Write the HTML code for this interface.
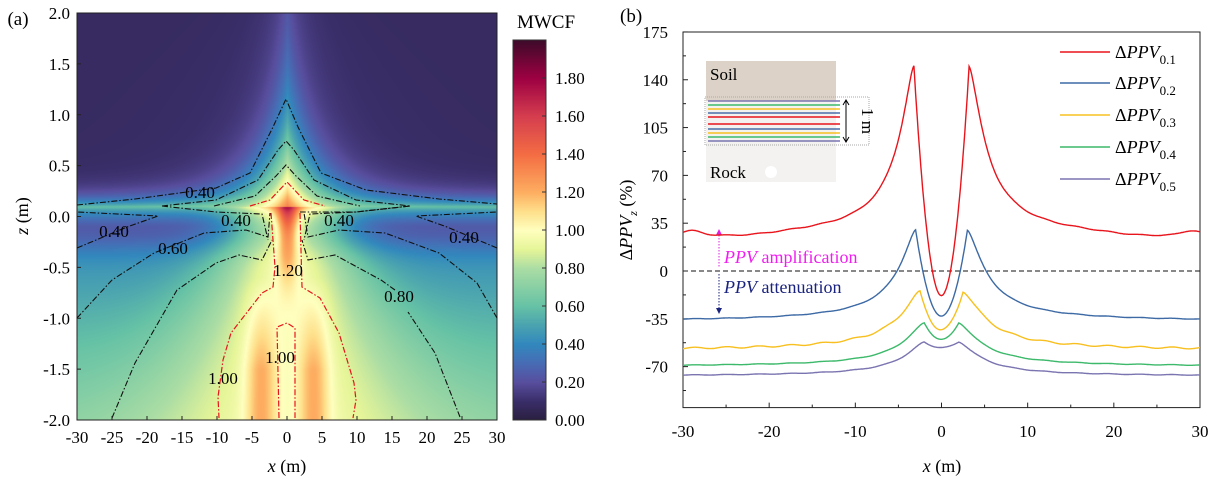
<!DOCTYPE html>
<html><head><meta charset="utf-8"><style>
body{margin:0;background:#fff;width:1216px;height:479px;overflow:hidden;position:relative;font-family:"Liberation Serif",serif}
canvas{position:absolute}
svg{position:absolute;left:0;top:0}
</style></head><body>
<canvas id="hm" width="420" height="407" style="left:77px;top:13px"></canvas>
<canvas id="cb" width="33" height="380" style="left:513px;top:40px"></canvas>
<svg id="s" width="1216" height="479" viewBox="0 0 1216 479" font-family="Liberation Serif, serif"></svg>
<script>
var stops=[[0,[42,31,63]],[0.1,[58,46,105]],[0.2,[88,78,158]],[0.3,[72,108,181]],[0.4,[50,136,189]],[0.5,[74,163,176]],[0.6,[102,194,165]],[0.8,[171,221,164]],[0.9,[230,245,152]],[1.0,[255,255,191]],[1.1,[254,224,139]],[1.2,[253,174,97]],[1.4,[244,109,67]],[1.6,[213,62,79]],[1.8,[158,1,66]],[2.0,[61,10,42]]];
function cmap(v){if(v<=0)return stops[0][1];if(v>=2)return stops[stops.length-1][1];for(var i=1;i<stops.length;i++){if(v<=stops[i][0]){var a=stops[i-1],b=stops[i],t=(v-a[0])/(b[0]-a[0]);return[a[1][0]+t*(b[1][0]-a[1][0]),a[1][1]+t*(b[1][1]-a[1][1]),a[1][2]+t*(b[1][2]-a[1][2])];}}}
function field(x,z){var ax=Math.abs(x);
 if(z>=0.1){var h=z-0.1;var L=0.1+0.62*Math.exp(-ax/5);var A=0.5+0.7*Math.exp(-ax/5);
  var g=0.07*Math.exp(-ax/Math.max(4,14-5*h));
  return 0.08+A*Math.exp(-h/L)+g;}
 var d=0.1-z;
 var e=Math.max(0,Math.min(1,(d-0.2)/1.9));
 var edge=0.33+0.37*Math.pow(e,0.7);
 var cen=0.97;var w=7+6*d;
 var v=edge+(cen-edge)*Math.exp(-Math.pow(ax/w,2));
 v+=0.3*Math.exp(-d/0.08);
 v-=0.12*Math.exp(-Math.pow((d-0.25)/0.2,2));
 v+=0.55*Math.exp(-Math.pow(ax/1.5,2))*Math.exp(-Math.pow(d/0.6,2));
 var sm=Math.max(0,Math.min(1,(d-0.7)/0.9));
 v+=0.25*Math.exp(-Math.pow((ax-3.8)/2.2,2))*sm;
 return Math.min(v,1.75);}
var c=document.getElementById('hm').getContext('2d');var im=c.createImageData(420,407);
for(var j=0;j<407;j++){var z=2-j/101.75;for(var i=0;i<420;i++){var x=-30+i/7;var col=cmap(field(x,z));var k=(j*420+i)*4;im.data[k]=col[0];im.data[k+1]=col[1];im.data[k+2]=col[2];im.data[k+3]=255;}}
c.putImageData(im,0,0);
var cb=document.getElementById('cb').getContext('2d');var im2=cb.createImageData(33,380);
for(var j=0;j<380;j++){var v=(380-j)/190;var col=cmap(v);for(var i=0;i<33;i++){var k=(j*33+i)*4;im2.data[k]=col[0];im2.data[k+1]=col[1];im2.data[k+2]=col[2];im2.data[k+3]=255;}}
cb.putImageData(im2,0,0);

var S='';
function T(x,y,t,o){o=o||{};S+='<text font-family="Liberation Serif, serif" x="'+x+'" y="'+y+'" font-size="'+(o.fs||18)+'" text-anchor="'+(o.a||'middle')+'"'+(o.fill?' fill="'+o.fill+'"':'')+(o.tr?' transform="'+o.tr+'"':'')+'>'+t+'</text>';}
function P(pts,st){S+='<polyline fill="none" points="'+pts.map(function(p){return p.join(',')}).join(' ')+'" '+st+'/>';}
S+='<rect x="77" y="13" width="420" height="407" fill="none" stroke="#222" stroke-width="1"/>';
var cs='stroke="#111" stroke-width="1.1" stroke-dasharray="6,2,1.5,2"';
var rs='stroke="#e8141c" stroke-width="1.2" stroke-dasharray="6,2,1.5,2"';
P([[77,205],[135,199],[216,188],[250,173],[273,127],[286,99],[298,127],[321,173],[366,190],[439,199],[497,204]],cs);
P([[162,206],[216,200],[258,180],[278,150],[286,141],[294,150],[314,180],[356,200],[410,206],[356,212],[300,212]],cs);
P([[162,206],[216,212],[262,214],[268,240]],cs);
P([[410,206],[356,212],[310,214],[304,240]],cs);
P([[214,206],[255,196],[276,176],[286,165],[296,176],[317,196],[360,206]],cs);
P([[77,248],[127,227],[158,216],[77,212]],cs);
P([[497,248],[447,227],[416,216],[497,212]],cs);
P([[77,318],[112,280],[154,253],[204,233],[246,230],[268,237],[270,213]],cs);
P([[497,318],[477,283],[439,253],[385,233],[339,230],[308,237],[304,213]],cs);
P([[112,418],[135,363],[177,290],[216,263],[239,255],[262,260],[272,240]],cs);
P([[460,417],[435,353],[408,312]],cs);P([[395,290],[381,280],[335,255],[308,260],[302,240]],cs);
P([[250,206],[270,200],[287,182],[304,200],[325,206]],rs);
P([[271,213],[275,267],[273,287],[262,293],[231,333],[223,360],[218,397],[219,418]],rs);
P([[300,213],[302,287],[320,298],[339,333],[354,383],[356,400],[353,418]],rs);
P([[279,418],[277,327],[287,323],[295,328],[295,418]],rs);
var lb=[[200,198,'0.40'],[114,237,'0.40'],[173,254,'0.60'],[236,226,'0.40'],[339,226,'0.40'],[464,243,'0.40'],[288,276,'1.20'],[399,302,'0.80'],[280,363,'1.00'],[223,384,'1.00']];
lb.forEach(function(l){T(l[0],l[1],l[2],{fs:17});});
for(var i=0;i<=8;i++){var z=2-i*0.5;var y=13+i*50.875;T(70,y+6,(z==0?'0.0':z.toFixed(1)),{a:'end',fs:17});S+='<line x1="77" x2="81" y1="'+y+'" y2="'+y+'" stroke="#222"/>';}
for(var i=0;i<=12;i++){var xv=-30+i*5;var x=77+i*35;T(x,443,''+xv,{fs:17});S+='<line x1="'+x+'" x2="'+x+'" y1="420" y2="416" stroke="#222"/>';}
T(18,25,'(a)',{fs:19});
T(287,472,'<tspan font-style="italic">x</tspan> (m)',{fs:18});
T(28,216,'<tspan font-style="italic">z</tspan> (m)',{fs:18,tr:'rotate(-90 28 216)'});
S+='<rect x="513" y="40" width="33" height="380" fill="none" stroke="#333"/>';
T(546,28,'MWCF',{fs:19});
for(var i=0;i<=9;i++){var v=i*0.2;var y=420-i*38;T(555,y+6,v.toFixed(2),{a:'start',fs:17});S+='<line x1="542" x2="546" y1="'+y+'" y2="'+y+'" stroke="#333"/>';}
var X0=683,X1=1200,Y0=271;function RX(x){return X0+(x+30)*(X1-X0)/60;}function RY(v){return Y0-v*1.366;}
var YB=RY(-100);
S+='<rect x="'+X0+'" y="32" width="'+(X1-X0)+'" height="'+(YB-32)+'" fill="none" stroke="#222"/>';
S+='<rect x="706" y="61" width="130" height="40" fill="#dcd2c7"/><rect x="706" y="101" width="130" height="81" fill="#f3f2f0"/>';
S+='<rect x="705" y="97" width="164" height="48" fill="none" stroke="#aaa" stroke-dasharray="1,1"/>';
var lc=['#7a74b0','#3cb96a','#f7c020','#4a6fa8','#e8141c','#e8141c','#4a6fa8','#f7c020','#3cb96a','#7a74b0'];var ly=[101,105,109,113,117,124,129,133,137,141];
for(var i=0;i<10;i++)S+='<line x1="708" x2="840" y1="'+ly[i]+'" y2="'+ly[i]+'" stroke="'+lc[i]+'" stroke-width="1.5"/>';
S+='<line x1="846" x2="846" y1="101" y2="141" stroke="#000"/><path d="M843,105 L846,100 L849,105 M843,137 L846,142 L849,137" fill="none" stroke="#000"/>';
T(862,121,'1 m',{fs:17,tr:'rotate(90 862 121)'});
T(710,80,'Soil',{a:'start',fs:17});T(710,178,'Rock',{a:'start',fs:17});
S+='<circle cx="771" cy="172" r="6" fill="#fff"/>';
S+='<line x1="'+X0+'" x2="'+X1+'" y1="'+Y0+'" y2="'+Y0+'" stroke="#111" stroke-dasharray="5,3"/>';
for(var i=0;i<=8;i++){var v=175-i*35;var y=RY(v);if(v>=-70){T(668,y+6,''+v,{a:'end',fs:17});}if(v>-100)S+='<line x1="'+X0+'" x2="'+(X0+5)+'" y1="'+y+'" y2="'+y+'" stroke="#222"/>';var y2=RY(v-17.5);if(v-17.5>-100)S+='<line x1="'+X0+'" x2="'+(X0+3)+'" y1="'+y2+'" y2="'+y2+'" stroke="#222"/>';}
for(var i=0;i<=12;i++){var xv=-30+i*5;var x=RX(xv);if(i%2==0){T(x,437,''+xv,{fs:17});S+='<line x1="'+x+'" x2="'+x+'" y1="'+YB+'" y2="'+(YB-5)+'" stroke="#222"/>';}else S+='<line x1="'+x+'" x2="'+x+'" y1="'+YB+'" y2="'+(YB-3)+'" stroke="#222"/>';}
T(620,22,'(b)',{a:'start',fs:19});
T(942,472,'<tspan font-style="italic">x</tspan> (m)',{fs:18});
T(632,220,'Δ<tspan font-style="italic">PPV</tspan><tspan font-size="12" dy="5" font-style="italic">z</tspan><tspan dy="-5"> (%)</tspan>',{fs:18,tr:'rotate(-90 632 220)'});
S+='<line x1="719" x2="719" y1="232" y2="268" stroke="#e020e0" stroke-dasharray="1.5,1.5"/><path d="M716,235 L719,229 L722,235Z" fill="#e020e0"/>';
S+='<line x1="719" x2="719" y1="274" y2="310" stroke="#1a237e" stroke-dasharray="1.5,1.5"/><path d="M716,308 L719,314 L722,308Z" fill="#1a237e"/>';
T(724,263,'<tspan font-style="italic">PPV</tspan> amplification',{a:'start',fs:18,fill:'#f01ef0'});
T(724,293,'<tspan font-style="italic">PPV</tspan> attenuation',{a:'start',fs:18,fill:'#1a237e'});
var series=[['#e8141c',24,150,3.2,-18,2.2,1.5,0.3],['#3d6aa5',-37,30,3.0,-33,2.5,1.5,0.2],['#f7c020',-58,-15,2.5,-43,3,1.5,0.6],['#3cb96a',-70,-38,2.0,-50,3,1.5,0.2],['#7a74b0',-77,-52,2.0,-56,3,1.5,0.2]];
series.forEach(function(s){var pts=[];for(var i=0;i<=600;i++){var x=-30+i*0.1;var a=Math.abs(x);var v;
 if(a>=s[3]){v=s[1]+(s[2]-s[1])/(1+Math.pow((a-s[3])/s[5],s[6]));}else{v=s[4]+(s[2]-s[4])*Math.pow(a/s[3],2);}
 v+=s[7]*Math.sin(x*1.7);
 if(s[0]=='#e8141c'){v+=-2*Math.exp(-Math.pow((a-23)/5,2))+3*Math.exp(-Math.pow((a-29)/1.5,2));}
 pts.push([RX(x).toFixed(1),RY(v).toFixed(1)]);}
 P(pts,'stroke="'+s[0]+'" stroke-width="1.4"');});
var ly2=[52,83,115,147,179];
series.forEach(function(s,i){S+='<line x1="1060" x2="1110" y1="'+ly2[i]+'" y2="'+ly2[i]+'" stroke="'+s[0]+'" stroke-width="1.4"/>';
T(1115,ly2[i]+6,'Δ<tspan font-style="italic">PPV</tspan><tspan font-size="13" dy="6">0.'+(i+1)+'</tspan>',{a:'start',fs:18});});
document.getElementById('s').innerHTML=S;
</script>
</body></html>
